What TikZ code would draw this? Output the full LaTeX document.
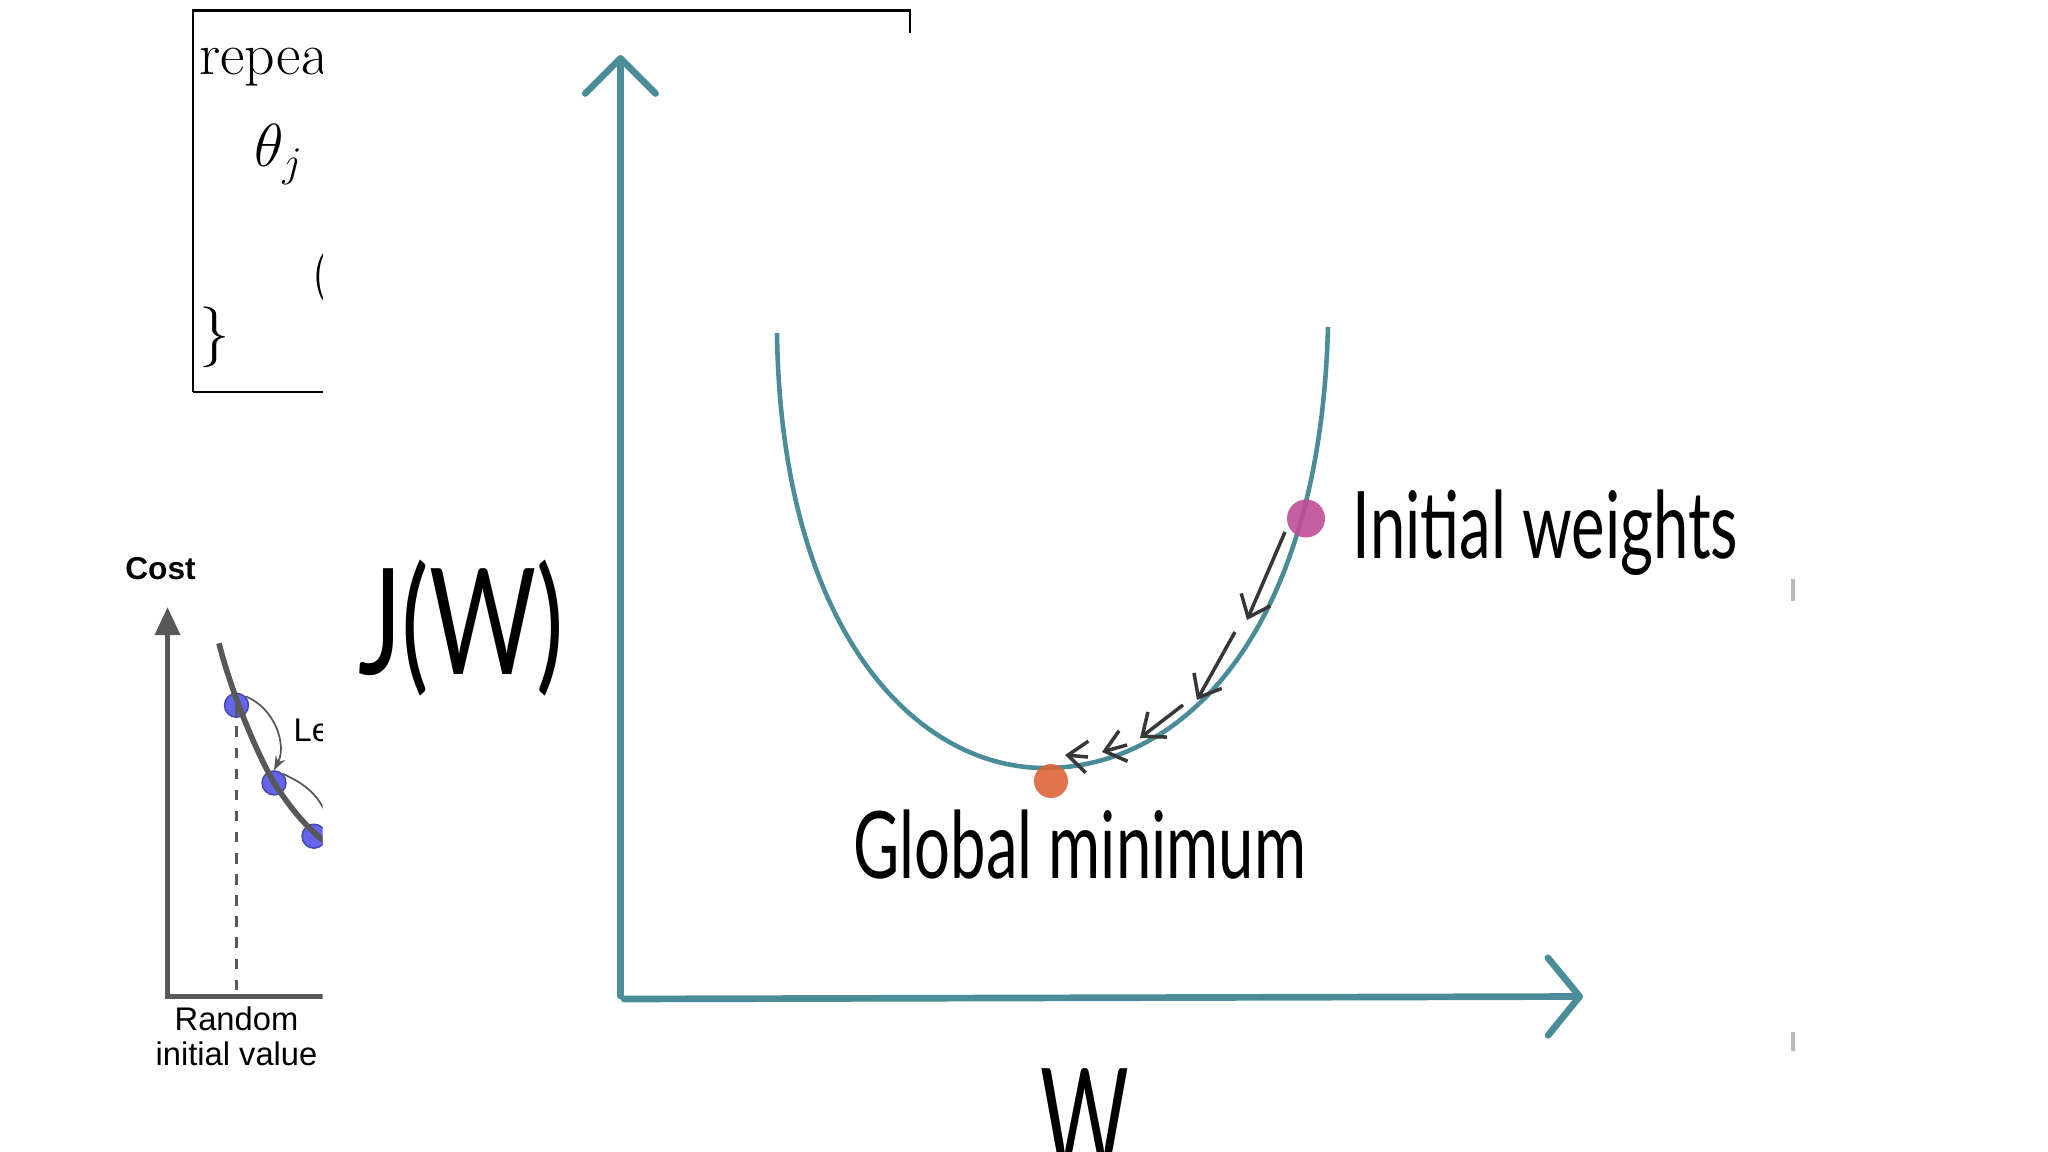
\documentclass[tikz,border=0pt]{standalone}
\usepackage{fontspec}
\usepackage{amsmath}
\usetikzlibrary{arrows.meta, positioning}
\newfontfamily\handfont[FakeStretch=0.68]{Lato}
\newfontfamily\handnarrow[FakeStretch=0.58]{Lato}
\newfontfamily\handwide[FakeStretch=0.7]{Lato}
\newfontfamily\arialfont{Liberation Sans}
\definecolor{curveteal}{RGB}{74,140,152}
\definecolor{startpink}{RGB}{192,78,150}
\definecolor{minorange}{RGB}{222,100,58}
\definecolor{stepgray}{RGB}{55,55,55}
\definecolor{panelgray}{RGB}{88,88,88}
\definecolor{dotblue}{RGB}{100,100,236}

\begin{document}
\begin{tikzpicture}[x=0.01cm, y=-0.01cm,
    axis/.style={curveteal, line width=1.9pt, line cap=round},
    bowl/.style={curveteal, line width=1.3pt},
    stepline/.style={-{Straight Barb[length=5.5pt, width=9pt]}, stepgray, line width=1pt},
    hand/.style={inner sep=0pt, font=\handfont\fontsize{26.5}{30}\selectfont},
    bighand/.style={inner sep=0pt, font=\handnarrow\fontsize{42}{46}\selectfont},
    notes/.style={inner sep=0pt, font=\fontsize{17}{20}\selectfont},
    smalltxt/.style={inner sep=0pt, align=center, font=\arialfont\fontsize{9.3}{9.8}\selectfont},
    smalldot/.style={circle, fill=dotblue, draw=dotblue!70!black, line width=0.4pt, minimum size=0.24cm, inner sep=0pt},
    bigdot/.style={circle, minimum size=0.36cm, inner sep=0pt, fill opacity=0.9}
]
    \useasboundingbox (0,0) rectangle (2048,1152);

    % Notes box (cut off by the slide)
    \draw[line width=0.6pt] (193,392) -- (193,10.5) -- (910,10.5) -- (910,33);
    \draw[line width=0.6pt] (193,392) -- (322.6,392);

    \begin{scope}
        \clip (0,0) rectangle (322.6,1152);
        \node[notes, anchor=base west] (rep) at (198.5,74.4) {repea};
        \node[notes, anchor=base west] (thj) at (254,167) {$\theta_j$};
        \node[notes, anchor=base west] (par) at (311,293) {$($};
        \node[notes, anchor=base west] (brc) at (198.5,353) {$\}$};

        % Small cost chart
        \coordinate (corner) at (167.5,996.4);
        \coordinate (rndfoot) at (236.5,996.4);
        \draw[panelgray, line width=1.4pt, -{Triangle[length=8pt, width=7pt]}]
            (340,996.4) -- (corner) -- (167.5,607);
        \node[smalldot] (d1) at (236.5,705.3) {};
        \node[smalldot] (d2) at (274,782.9) {};
        \node[smalldot] (d3) at (314,836.2) {};
        \draw[panelgray, dashed, line width=0.9pt] (d1.center) -- (rndfoot);
        \draw[panelgray, line width=1.6pt] (219,643.3) .. controls (228,680) and (250,740) .. (d2.center)
            .. controls (292,810) and (306,828) .. (335,850);
        \draw[panelgray, line width=0.5pt, -{Stealth[length=4pt, width=3pt]}]
            (d1.north east) .. controls (275,708) and (287,745) .. (d2.north);
        \draw[panelgray, line width=0.5pt]
            (d2.north east) .. controls (306,784) and (320,797) .. (326,815);
        \node[smalltxt, anchor=west] (lr) at (293,730) {Le};
        \node[font=\arialfont\bfseries\fontsize{9}{10}\selectfont, inner sep=0pt] (cost) at (160.5,569) {Cost};
        \node[smalltxt, anchor=north, below=0.1cm of rndfoot] (rnd) {Random\\initial value};
    \end{scope}

    % Axes
    \coordinate (origin) at (620.4,996);
    \draw[axis, -{Straight Barb[length=10pt, width=20pt, round]}] (origin) -- (620.4,55);
    \draw[axis, -{Straight Barb[length=9pt, width=22pt, round]}] (624,999) -- (1583,996.5);

    % Cost curve
    \draw[bowl] (777,333) .. controls (781,630) and (915,768) .. (1045,768)
        .. controls (1185,768) and (1320,630) .. (1328,327);

    % Descent steps
    \foreach \sx/\sy/\ex/\ey in {1285/532/1247/620, 1235/632/1197/700, 1183/705/1140/738,
                                 1127/745/1102/752, 1088/757/1065/755}
        \draw[stepline] (\sx,\sy) -- (\ex,\ey);

    % Start and end points
    \node[bigdot, fill=startpink, minimum size=0.38cm] (start) at (1306,518.5) {};
    \node[bigdot, fill=minorange, minimum size=0.34cm] (gmin) at (1051,781) {};

    % Labels
    \node[hand, anchor=base west] (initlbl) at (1352,559) {Initial weights};
    \node[hand, anchor=base] (minlbl) at (1080,878) {Global minimum};
    \node[bighand, font=\handwide\fontsize{42}{46}\selectfont] (ylbl) at (461,628) {J(W)};
    \node[bighand, anchor=north] (xlbl) at (1085,1068) {W};

    % Faint marks at the right
    \draw[gray!55, line width=1.2pt] (1793,579) -- (1793,601);
    \draw[gray!55, line width=1.2pt] (1793,1032) -- (1793,1051);
\end{tikzpicture}
\end{document}
